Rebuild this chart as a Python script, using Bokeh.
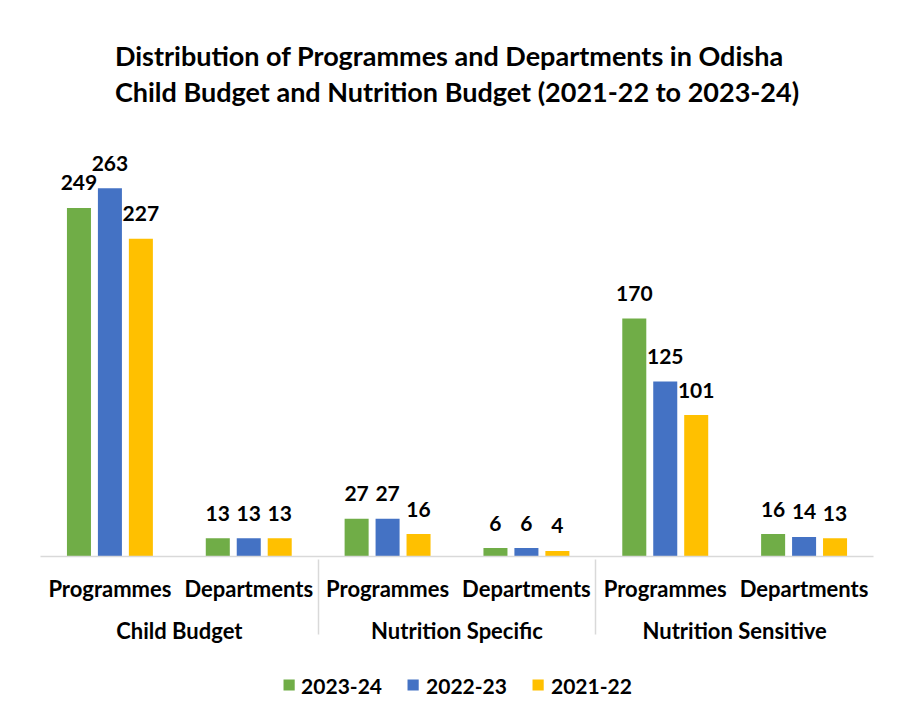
from bokeh.plotting import figure
from bokeh.models import FactorRange, ColumnDataSource, Legend, LegendItem, Title, Range1d
from bokeh.layouts import column
from bokeh.transform import dodge
from bokeh.core.properties import value
from bokeh.embed import file_html
from bokeh.resources import INLINE

groups = ["Child Budget", "Nutrition Specific", "Nutrition Sensitive"]
subcats = ["Programmes", "Departments"]
series = ["2023-24", "2022-23", "2021-22"]
v2023 = [249, 13, 27, 6, 170, 16]
v2022 = [263, 13, 27, 6, 125, 14]
v2021 = [227, 13, 16, 4, 101, 13]
colors = ["#70AD47", "#4472C4", "#FFC000"]
title_lines = ["Distribution of Programmes and Departments in Odisha",
               "Child Budget and Nutrition Budget (2021-22 to 2023-24)"]

FONT = "Lato"
FS = "22px"
W = 900


def hide_axes(fig):
    for a in fig.axis:
        a.axis_line_color = None
        a.major_tick_line_color = None
        a.minor_tick_line_color = None
        a.major_label_text_font_size = "0px"
        a.major_label_text_color = None
        a.major_label_standoff = 0


factors = [(g, s) for g in groups for s in subcats]
src = ColumnDataSource(dict(
    x=factors, a=v2023, b=v2022, c=v2021,
    la=[str(v) for v in v2023], lb=[str(v) for v in v2022], lc=[str(v) for v in v2021],
))

xr = FactorRange(*factors, range_padding=0, group_padding=0)
p = figure(x_range=xr, y_range=Range1d(0, 300), width=W, height=665,
           output_backend="svg", toolbar_location=None,
           min_border_left=40, min_border_right=27, min_border_top=136, min_border_bottom=109)

p.add_layout(Title(text="\n".join(title_lines), align="center", text_font=FONT, text_font_size="27px",
                   text_font_style="bold", text_color="black", standoff=56, text_line_height=1.1), "above")

offs = [-0.223, 0.0, 0.223]
cols = ["a", "b", "c"]
labs = ["la", "lb", "lc"]
for off, col, lab, colr in zip(offs, cols, labs, colors):
    p.vbar(x=dodge("x", off, range=xr), top=col, width=0.173, source=src,
           fill_color=colr, line_color=None)
    p.text(x=dodge("x", off, range=xr), y=col, text=lab, source=src,
           text_align="center", text_baseline="alphabetic", y_offset=-25,
           text_font=value(FONT), text_font_size="21px", text_font_style="bold", text_color="black")

p.xgrid.grid_line_color = None
p.ygrid.grid_line_color = None
p.outline_line_color = None

yax = p.yaxis[0]
yax.axis_line_color = None
yax.major_tick_line_color = None
yax.minor_tick_line_color = None
yax.major_label_text_font_size = "0px"
yax.major_label_text_color = None

ax = p.xaxis[0]
ax.axis_line_color = "#d9d9d9"
ax.axis_line_width = 1.5
ax.major_tick_line_color = None
ax.minor_tick_line_color = None
ax.major_label_text_font = FONT
ax.major_label_text_font_size = FS
ax.major_label_text_font_style = "bold"
ax.major_label_text_color = "black"
ax.major_label_standoff = 12
ax.group_text_font = FONT
ax.group_text_font_size = FS
ax.group_text_font_style = "bold"
ax.group_text_color = "black"
ax.separator_line_color = "#d9d9d9"
ax.separator_line_width = 1.5

# legend strip below the chart
p2 = figure(width=W, height=45, x_range=Range1d(0, 1), y_range=Range1d(0, 1),
            output_backend="svg", toolbar_location=None,
            min_border_left=40, min_border_right=27, min_border_top=0, min_border_bottom=0)
hide_axes(p2)
p2.xgrid.grid_line_color = None
p2.ygrid.grid_line_color = None
p2.outline_line_color = None
items = []
for colr, name in zip(colors, series):
    # zero-height key renderer: only its swatch is shown in the legend
    r = p2.vbar(x=[0.5], top=[0], width=0.1, fill_color=colr, line_color=None)
    items.append(LegendItem(label=name, renderers=[r]))
legend = Legend(items=items, orientation="horizontal", location="center",
                label_text_font=FONT, label_text_font_size="21px", label_text_font_style="bold",
                label_text_color="black",
                glyph_width=14, glyph_height=14, label_standoff=6, spacing=24,
                border_line_color=None, background_fill_alpha=0, margin=0, padding=0)
p2.add_layout(legend)

layout = column(p, p2, spacing=0)
open("out.html", "w").write(file_html(layout, INLINE))
